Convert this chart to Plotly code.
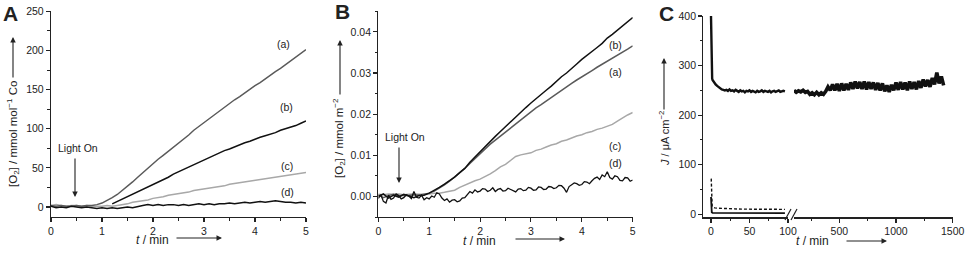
import plotly.graph_objects as go

FONT = "Liberation Sans, Arial, Helvetica, sans-serif"
W, H = 969, 253

# ---------------- data ----------------
t_min = [round(i * 0.1, 1) for i in range(51)]     # 0 .. 5 min
t_fine = [round(i * 0.05, 2) for i in range(101)]  # 0 .. 5 min

# Panel A: [O2] / mmol mol^-1 Co
A_a = [2, 1, 2, 1, 1, 2, 1, 2, 2, 3, 5, 8, 12, 16, 21, 26, 32, 38, 44, 50, 56,
       61, 66, 71, 76, 82, 87, 92, 98, 103, 108, 113, 118, 122, 127, 132, 137,
       141, 146, 150, 155, 159, 164, 168, 173, 177, 182, 186, 191, 196, 201]
A_b = [None] * 12 + [4, 7, 10, 13, 16, 19, 22, 25, 28, 32, 35, 38, 42, 45, 48,
                     51, 55, 58, 61, 64, 66, 69, 72, 74, 77, 80, 82, 84, 87, 89,
                     91, 93, 95, 98, 100, 102, 104, 107, 110]
A_c = [2, 3, 2, 1, 2, 2, 1, 2, 1, 1, 1, 2, 1, 2, 3, 4, 6, 7, 8, 9, 11, 12, 13,
       15, 16, 17, 18, 19, 21, 22, 23, 24, 25, 26, 27, 29, 30, 31, 32, 33, 34,
       35, 36, 37, 38, 39, 40, 41, 42, 43, 44]
A_d = [1, -1, 0, -1, 1, 0, -1, 0, -1, -2, -1, -2, -1, -2, -1, 0, -1, 1, 2, 3,
       2, 3, 2, 3, 3, 2, 3, 2, 3, 4, 3, 4, 3, 4, 4, 5, 4, 5, 6, 5, 6, 7, 6, 7,
       8, 7, 6, 6, 5, 6, 5]

# Panel B: [O2] / mmol m^-2
B_a = [0.0004, -0.0003, 0.0002, 0.0005, 0.0001, 0.0003, 0.0002, 0.0004, 0.0003,
       0.0005, 0.0008, 0.0013, 0.0020, 0.0028, 0.0037, 0.0047, 0.0057, 0.0068,
       0.0080, 0.0092, 0.0105, 0.0116, 0.0127, 0.0137, 0.0147, 0.0157, 0.0167,
       0.0177, 0.0187, 0.0197, 0.0207, 0.0215, 0.0223, 0.0232, 0.0240, 0.0248,
       0.0257, 0.0266, 0.0275, 0.0283, 0.0290, 0.0298, 0.0306, 0.0314, 0.0321,
       0.0328, 0.0336, 0.0343, 0.0350, 0.0358, 0.0366]
B_b = [0.0000, 0.0006, -0.0004, 0.0003, -0.0002, 0.0005, 0.0001, -0.0003,
       0.0002, 0.0003, 0.0008, 0.0014, 0.0022, 0.0030, 0.0038, 0.0047, 0.0058,
       0.0068, 0.0083, 0.0096, 0.0108, 0.0120, 0.0133, 0.0146, 0.0158, 0.0170,
       0.0182, 0.0194, 0.0205, 0.0216, 0.0227, 0.0238, 0.0248, 0.0258, 0.0268,
       0.0280, 0.0291, 0.0300, 0.0312, 0.0322, 0.0333, 0.0342, 0.0352, 0.0362,
       0.0372, 0.0385, 0.0394, 0.0404, 0.0414, 0.0424, 0.0435]
B_c = [0.0005, 0.0004, 0.0006, 0.0005, 0.0006, 0.0004, 0.0005, 0.0006, 0.0005,
       0.0005, 0.0006, 0.0008, 0.0008, 0.0010, 0.0012, 0.0015, 0.0022, 0.0028,
       0.0033, 0.0038, 0.0042, 0.0048, 0.0055, 0.0063, 0.0072, 0.0078, 0.0088,
       0.0097, 0.0101, 0.0103, 0.0106, 0.0112, 0.0115, 0.0120, 0.0125, 0.0128,
       0.0134, 0.0137, 0.0142, 0.0147, 0.0150, 0.0155, 0.0158, 0.0163, 0.0166,
       0.0170, 0.0175, 0.0183, 0.0191, 0.0198, 0.0204]
B_d = [-0.0005, 0.0004, -0.0012, -0.0016, 0.0003, -0.0007, -0.0004, 0.0006,
       0.0002, -0.0006, -0.0003, 0.0004, 0.0001, -0.0005, 0.0012, -0.0002,
       -0.0004, 0.0003, -0.0008, -0.0003, -0.0006, 0.0001, -0.0002, 0.0009,
       0.0006, -0.0004, -0.0010, -0.0006, -0.0014, -0.0009, -0.0008, -0.0013,
       -0.0011, -0.0004, -0.0003, 0.0006, 0.0012, 0.0008, 0.0016, 0.0011,
       0.0013, 0.0019, 0.0018, 0.0012, 0.0015, 0.0021, 0.0012, 0.0017, 0.0019,
       0.0013, 0.0014, 0.0020, 0.0017, 0.0012, 0.0011, 0.0018, 0.0019, 0.0014,
       0.0015, 0.0022, 0.0020, 0.0015, 0.0016, 0.0023, 0.0022, 0.0017, 0.0018,
       0.0024, 0.0023, 0.0019, 0.0021, 0.0027, 0.0026, 0.0020, 0.0010, 0.0024,
       0.0028, 0.0033, 0.0031, 0.0027, 0.0029, 0.0036, 0.0035, 0.0031, 0.0038,
       0.0044, 0.0047, 0.0041, 0.0052, 0.0048, 0.0060, 0.0046, 0.0042, 0.0050,
       0.0048, 0.0039, 0.0038, 0.0046, 0.0045, 0.0037, 0.0040]

# Panel C: J / uA cm^-2
C1_t = [0, 0.3, 0.6, 1, 1.5, 2, 3, 4, 5, 6] + list(range(8, 97, 2))
C1_j = [400, 330, 295, 280, 274, 271, 268, 266, 264, 262,
        259, 256, 254, 252, 251, 250, 251, 249, 252, 249,
        250, 248, 251, 249, 247, 250, 248, 249, 246, 249,
        248, 250, 247, 249, 248, 246, 249, 247, 248, 250,
        247, 249, 248, 247, 249, 246, 248, 249, 247, 248,
        250, 247, 248, 249, 248]
C2_t = list(range(100, 1421, 20))
C2_j = [250, 246, 249, 247, 250, 246, 248, 242, 245, 241, 246, 241, 245, 242, 248,
        257, 250, 262, 250, 263, 249, 264, 250, 263, 251, 266, 253, 268, 254, 267,
        253, 268, 252, 267, 253, 266, 251, 265, 250, 264, 248, 260, 247, 261, 250,
        266, 251, 267, 252, 266, 250, 268, 253, 267, 252, 269, 255, 272, 258, 271,
        257, 275, 262, 286, 264, 278, 260]
C_solid_t = [0, 0.3, 0.6, 1, 2, 4, 6, 10, 20, 30, 40, 50, 60, 70, 80, 90, 96]
C_solid_j = [35, 12, 6, 4, 3, 3, 2.5, 2.5, 2.5, 2, 2.5, 2, 2.5, 2, 2.5, 2, 2.5]
C_dash_t = [0.3, 0.5, 1, 1.5, 2, 3, 5, 8, 12, 20, 30, 40, 50, 60, 70, 80, 90, 96]
C_dash_j = [72, 40, 22, 17, 15, 14, 13, 12.5, 12, 11, 11, 10.5, 10.5, 10, 10, 10, 10, 10]

DARK, BLACK, LIGHT = "#5a5a5a", "#111111", "#a8a8a8"

# ---------------- figure ----------------
fig = go.Figure()


def line(x, y, color, xa, ya, width=1.5, dash="solid"):
    fig.add_trace(go.Scatter(x=x, y=y, mode="lines", xaxis=xa, yaxis=ya,
                             line=dict(color=color, width=width, dash=dash),
                             showlegend=False, hoverinfo="skip"))


line(t_min, A_c, LIGHT, "x", "y")
line(t_min, A_a, DARK, "x", "y")
line(t_min, A_d, BLACK, "x", "y")
line(t_min, A_b, BLACK, "x", "y")

line(t_min, B_c, LIGHT, "x2", "y2")
line(t_min, B_a, DARK, "x2", "y2")
line(t_fine, B_d, BLACK, "x2", "y2", width=1.3)
line(t_min, B_b, BLACK, "x2", "y2")

line(C1_t, C1_j, BLACK, "x3", "y3", width=2.4)
line(C2_t, C2_j, BLACK, "x4", "y3", width=3.6)
line(C_solid_t, C_solid_j, BLACK, "x3", "y3", width=1.8)
line(C_dash_t, C_dash_j, BLACK, "x3", "y3", width=1.4, dash="3px,2px")


def px(x):
    return x / W


def py(y):
    return (H - y) / H


AX = "#222222"


def axis(**kw):
    d = dict(showline=True, linecolor=AX, linewidth=1.2, ticks="outside",
             ticklen=4, tickwidth=1.1, tickcolor=AX, showgrid=False,
             zeroline=False, fixedrange=True, automargin=False,
             tickfont=dict(family=FONT, size=10.5, color=AX))
    minor = kw.pop("minor_dtick", None)
    if minor is not None:
        d["minor"] = dict(ticks="outside", ticklen=2.5, tickwidth=1,
                          tickcolor=AX, dtick=minor, showgrid=False)
    d.update(kw)
    return d


ydom = [py(217), py(11.3)]
fig.update_layout(
    template="none",
    width=W, height=H,
    margin=dict(l=0, r=0, t=0, b=0, pad=0, autoexpand=False),
    paper_bgcolor="white", plot_bgcolor="white", showlegend=False,
    font=dict(family=FONT, color=AX),
    xaxis=axis(domain=[px(51), px(306)], range=[0, 5], dtick=1, minor_dtick=0.5,
               anchor="y"),
    yaxis=axis(domain=ydom, range=[-12.8, 250], dtick=50, minor_dtick=25,
               anchor="x"),
    xaxis2=axis(domain=[px(378.3), px(632.7)], range=[0, 5], dtick=1,
                minor_dtick=0.5, anchor="y2"),
    yaxis2=axis(domain=ydom, range=[-0.005, 0.045], dtick=0.01,
                minor_dtick=0.005, tickformat=".2f", anchor="x2"),
    xaxis3=axis(domain=[px(703.3), px(788)], range=[-10, 100], dtick=50,
                tick0=0, minor_dtick=25, anchor="y3"),
    xaxis4=axis(domain=[px(794), px(952.7)], range=[100, 1500], dtick=500,
                tick0=0, minor_dtick=250, anchor="y3"),
    yaxis3=axis(domain=[py(217.3), py(16)], range=[-6, 400], dtick=100,
                minor_dtick=50, anchor="x3"),
)

ann = []


def text(x, y, s, size=11, angle=0):
    ann.append(dict(x=px(x), y=py(y), xref="paper", yref="paper", text=s,
                    showarrow=False, textangle=angle, xanchor="center",
                    yanchor="middle",
                    font=dict(family=FONT, size=size, color=AX)))


def arrow(hx, hy, tx, ty):
    ann.append(dict(x=px(hx), y=py(hy), xref="paper", yref="paper", text="",
                    showarrow=True, axref="pixel", ayref="pixel",
                    ax=tx - hx, ay=ty - hy, arrowhead=2, arrowsize=1.0,
                    arrowwidth=1.1, arrowcolor=AX))


# panel letters
text(10, 13, "<b>A</b>", size=21)
text(342, 12, "<b>B</b>", size=21)
text(666, 13, "<b>C</b>", size=21)

# y titles
text(13, 134, "[O<sub>2</sub>] / mmol mol<sup>−1</sup> Co", size=11.5, angle=-90)
arrow(13, 37, 13, 79)
text(339, 138, "[O<sub>2</sub>] / mmol m<sup>−2</sup>", size=11.5, angle=-90)
arrow(340, 40, 340, 96)
text(664, 139, "<i>J</i> / μA cm<sup>−2</sup>", size=11, angle=-90)
arrow(664, 58, 664, 111)

# x titles
text(152.5, 240, "<i>t</i> / min", size=12)
arrow(222, 238, 175, 238)
text(479, 241, "<i>t</i> / min", size=12)
arrow(565, 239, 514, 239)
text(812, 241, "<i>t</i> / min", size=12)
arrow(887, 241, 845, 241)

# light on
text(78, 148, "Light On", size=10.5)
arrow(75, 197, 75, 157)
text(405, 137, "Light On", size=10.5)
arrow(399, 183, 399, 146)

# curve labels
for x, y, s in [(283, 44, "(a)"), (286, 107, "(b)"), (287, 166, "(c)"),
                (287, 192, "(d)"), (615, 45, "(b)"), (615, 72, "(a)"),
                (615, 146, "(c)"), (615, 163, "(d)")]:
    text(x, y, s, size=10.5)

fig.update_layout(annotations=ann)

# axis-break marks
for x0 in (785, 791):
    fig.add_shape(type="line", xref="paper", yref="paper",
                  x0=px(x0), y0=py(220), x1=px(x0 + 6), y1=py(209),
                  line=dict(color=AX, width=1.2))

fig.write_html(
    "out.html",
    config={"displayModeBar": False, "staticPlot": True},
    post_script="document.body.style.margin='0';document.body.style.padding='0';"
                "document.body.style.overflow='hidden';",
)
